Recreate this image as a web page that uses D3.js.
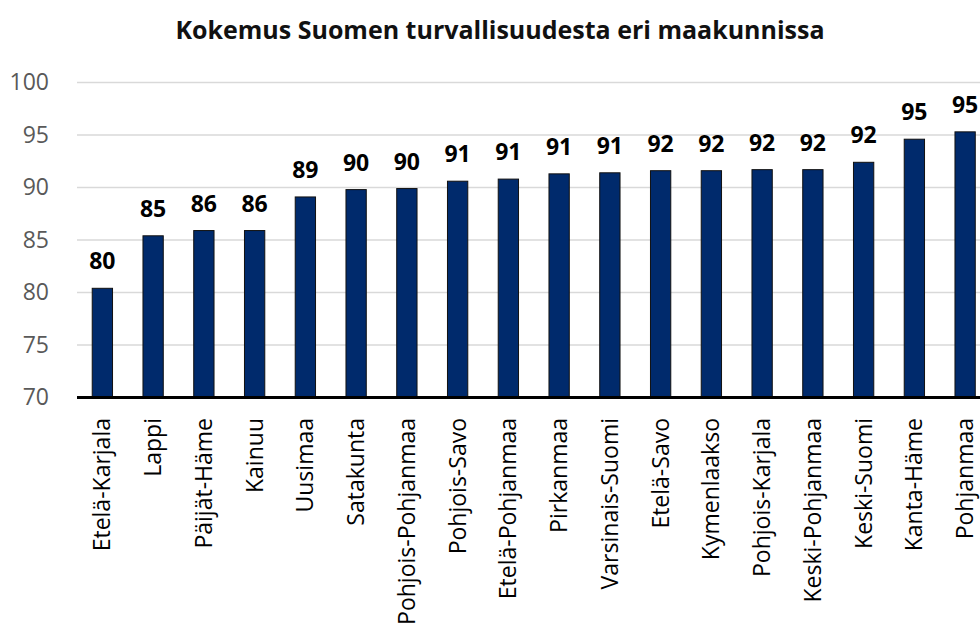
<!DOCTYPE html>
<html>
<head>
<meta charset="utf-8">
<script src="https://cdn.jsdelivr.net/npm/d3@7"></script>
<style>
  body { margin: 0; background: #fff; }
  svg { display: block; font-family: "Open Sans", "Noto Sans", sans-serif; }
</style>
</head>
<body>
<script>
/* Chart data */
var regions = ["Etelä-Karjala", "Lappi", "Päijät-Häme", "Kainuu", "Uusimaa", "Satakunta",
  "Pohjois-Pohjanmaa", "Pohjois-Savo", "Etelä-Pohjanmaa", "Pirkanmaa", "Varsinais-Suomi",
  "Etelä-Savo", "Kymenlaakso", "Pohjois-Karjala", "Keski-Pohjanmaa", "Keski-Suomi",
  "Kanta-Häme", "Pohjanmaa"];
var values = [80.4, 85.4, 85.9, 85.9, 89.1, 89.8, 89.9, 90.6, 90.8, 91.3, 91.4,
  91.6, 91.6, 91.7, 91.7, 92.4, 94.6, 95.3];
var yTicks = [70, 75, 80, 85, 90, 95, 100];
var title = "Kokemus Suomen turvallisuudesta eri maakunnissa";

/* Size of the picture */
var width = 980;
var height = 633;
var plotLeft = 77;
var plotTop = 82.5;
var plotBottom = 397.5;

var svg = d3.select("body").append("svg")
  .attr("width", width)
  .attr("height", height);

var x = d3.scaleBand()
  .domain(regions)
  .range([plotLeft, plotLeft + 18 * 50.75])
  .paddingInner(0.6)
  .paddingOuter(0.3);

var y = d3.scaleLinear()
  .domain([70, 100])
  .range([plotBottom, plotTop]);

/* Title */
svg.append("text")
  .attr("x", 500)
  .attr("y", 39)
  .attr("text-anchor", "middle")
  .style("font-weight", "bold")
  .style("font-size", "25px")
  .attr("fill", "#111")
  .text(title);

/* Gridlines */
svg.append("g").selectAll("line")
  .data(yTicks.slice(1))
  .enter()
  .append("line")
  .attr("x1", plotLeft)
  .attr("x2", width)
  .attr("y1", function(d) { return y(d); })
  .attr("y2", function(d) { return y(d); })
  .attr("stroke", "#d9d9d9")
  .attr("stroke-width", 1.5);

/* Y axis labels */
var yAxis = svg.append("g")
  .attr("transform", "translate(" + (plotLeft - 28) + ",0)")
  .call(d3.axisLeft(y).tickValues(yTicks).tickSize(0).tickPadding(0));
yAxis.select(".domain").remove();
yAxis.selectAll("text")
  .attr("fill", "#595959")
  .style("font-size", "23px")
  .style("font-family", "Open Sans, sans-serif");

/* Bars */
svg.append("g").selectAll("rect")
  .data(values)
  .enter()
  .append("rect")
  .attr("x", function(d, i) { return x(regions[i]); })
  .attr("width", x.bandwidth())
  .attr("y", function(d) { return y(d); })
  .attr("height", function(d) { return y(70) - y(d); })
  .attr("fill", "#002a6c")
  .attr("stroke", "#111")
  .attr("stroke-width", 1);

/* Value labels */
svg.append("g").selectAll("text")
  .data(values)
  .enter()
  .append("text")
  .attr("x", function(d, i) { return x(regions[i]) + x.bandwidth() / 2; })
  .attr("y", function(d) { return y(d) - 19; })
  .attr("text-anchor", "middle")
  .style("font-weight", "bold")
  .style("font-size", "23px")
  .attr("fill", "#000")
  .text(function(d) { return Math.round(d); });

/* X axis line */
svg.append("line")
  .attr("x1", plotLeft)
  .attr("x2", width)
  .attr("y1", plotBottom)
  .attr("y2", plotBottom)
  .attr("stroke", "#000")
  .attr("stroke-width", 3);

/* Category labels, rotated */
svg.append("g").selectAll("text")
  .data(regions)
  .enter()
  .append("text")
  .attr("transform", function(d) {
    return "translate(" + (x(d) + x.bandwidth() / 2) + ",418) rotate(-90)";
  })
  .attr("dy", "0.35em")
  .attr("text-anchor", "end")
  .style("font-size", "23px")
  .attr("fill", "#000")
  .text(function(d) { return d; });
</script>
</body>
</html>
